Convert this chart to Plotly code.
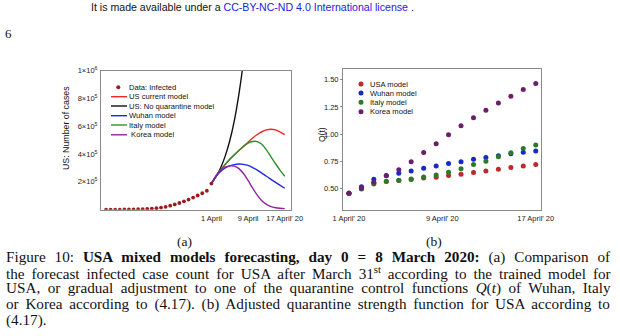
import plotly.graph_objects as go

# ---------------- data (a) ----------------
data_days = list(range(-23, 1))  # 9 March .. 1 April (days relative to 1 April)
data_cases = [500, 700, 900, 1200, 1600, 2100, 2700, 3500, 4600, 6000, 8000, 11000,
              15000, 21000, 29000, 38000, 48000, 60000, 73000, 87000, 102000, 118000,
              136000, 188000]

model_days = list(range(0, 17))  # 1 April .. 17 April
noq_days = list(range(0, 9))
noq_model = [188000, 238000, 300000, 385000, 495000, 640000, 830000, 1070000, 1380000]
us_current = [188000, 240000, 285000, 325000, 362000, 395000, 425000, 455000, 485000,
              515000, 540000, 560000, 573000, 578000, 573000, 558000, 539000]
italy_model = [188000, 240000, 285000, 325000, 362000, 395000, 425000, 455000, 478000,
               490000, 489000, 470000, 430000, 380000, 330000, 283000, 240000]
wuhan_model = [188000, 240000, 275000, 300000, 315000, 324000, 328000, 326000, 318000,
               303000, 285000, 263000, 240000, 218000, 196000, 175000, 154000]
korea_model = [188000, 245000, 283000, 305000, 315000, 313000, 295000, 260000, 210000,
               155000, 105000, 65000, 38000, 22000, 14000, 10000, 8000]

a_xticks = [0, 8, 16]
a_xlabels = ["1 April", "9 April", "17 April' 20"]
a_yticks = [200000, 400000, 600000, 800000, 1000000]
a_ylabels = ["2×10<sup>5</sup>", "4×10<sup>5</sup>", "6×10<sup>5</sup>",
             "8×10<sup>5</sup>", "1×10<sup>6</sup>"]

# ---------------- data (b) ----------------
q_days = [0, 1.07, 2.13, 3.2, 4.27, 5.33, 6.4, 7.47, 8.53, 9.6, 10.67, 11.73,
          12.8, 13.87, 14.93, 16]
q_usa = [0.454, 0.50, 0.55, 0.563, 0.572, 0.582, 0.595, 0.602, 0.617, 0.63, 0.645,
         0.66, 0.676, 0.692, 0.705, 0.719]
q_wuhan = [0.454, 0.515, 0.583, 0.615, 0.639, 0.66, 0.685, 0.706, 0.728, 0.746,
           0.768, 0.784, 0.80, 0.818, 0.833, 0.845]
q_italy = [0.454, 0.494, 0.54, 0.565, 0.574, 0.586, 0.605, 0.623, 0.648, 0.68,
           0.72, 0.75, 0.79, 0.827, 0.866, 0.90]
q_korea = [0.454, 0.50, 0.556, 0.617, 0.67, 0.746, 0.83, 0.91, 0.993, 1.077,
           1.151, 1.219, 1.287, 1.348, 1.41, 1.466]
b_xticks = [0, 8, 16]
b_xlabels = ["1 April' 20", "9 April' 20", "17 April' 20"]
b_yticks = [0.5, 0.75, 1.0, 1.25, 1.5]
b_ylabels = ["0.50", "0.75", "1.00", "1.25", "1.50"]

W, H = 620, 336
SANS = "Liberation Sans"
SERIF = "Liberation Serif"

def px(x):
    return x / W

def py(y):
    return 1 - y / H

C_DOT = "#9b1c1c"
C_RED = "#f02828"
C_BLK = "#111111"
C_BLU = "#2028e8"
C_GRN = "#2a922a"
C_PUR = "#9422a0"

fig = go.Figure()
line_kw = dict(mode="lines", line_shape="spline", showlegend=False, xaxis="x", yaxis="y")
fig.add_trace(go.Scatter(x=noq_days, y=noq_model, line=dict(color=C_BLK, width=1.4), **line_kw))
fig.add_trace(go.Scatter(x=model_days, y=us_current, line=dict(color=C_RED, width=1.4), **line_kw))
fig.add_trace(go.Scatter(x=model_days, y=italy_model, line=dict(color=C_GRN, width=1.4), **line_kw))
fig.add_trace(go.Scatter(x=model_days, y=wuhan_model, line=dict(color=C_BLU, width=1.4), **line_kw))
fig.add_trace(go.Scatter(x=model_days, y=korea_model, line=dict(color=C_PUR, width=1.4), **line_kw))
fig.add_trace(go.Scatter(x=data_days, y=data_cases, mode="markers", showlegend=False,
                         marker=dict(color=C_DOT, size=3.8), xaxis="x", yaxis="y"))

Q_RED, Q_BLU, Q_GRN, Q_PUR = "#c0282a", "#1a28c8", "#2a7a2a", "#6a1f6a"
mk = dict(mode="markers", showlegend=False, xaxis="x2", yaxis="y2")
fig.add_trace(go.Scatter(x=q_days, y=q_usa, marker=dict(color=Q_RED, size=5), **mk))
fig.add_trace(go.Scatter(x=q_days, y=q_wuhan, marker=dict(color=Q_BLU, size=5), **mk))
fig.add_trace(go.Scatter(x=q_days, y=q_italy, marker=dict(color=Q_GRN, size=5), **mk))
fig.add_trace(go.Scatter(x=q_days, y=q_korea, marker=dict(color=Q_PUR, size=5), **mk))

tickfont = dict(family=SANS, size=7.5, color="#222")
axis_common = dict(showgrid=False, zeroline=False, showline=True, mirror=True,
                   linecolor="#8a8a8a", linewidth=1, tickfont=tickfont, automargin=False)

fig.update_layout(
    template="none",
    width=W, height=H, margin=dict(l=0, r=0, t=0, b=0, pad=0, autoexpand=False),
    paper_bgcolor="white", plot_bgcolor="white", showlegend=False,
    xaxis=dict(domain=[px(101), px(290.7)], range=[-24.1, 17.3], tickvals=a_xticks,
               ticktext=a_xlabels, ticks="", ticklabelstandoff=1, anchor="y", **axis_common),
    yaxis=dict(domain=[py(209.7), py(70.5)], range=[0, 1000000], tickvals=a_yticks,
               ticktext=a_ylabels, ticks="", ticklabelstandoff=1, anchor="x", **axis_common),
    xaxis2=dict(domain=[px(343), px(541)], range=[-0.51, 16.45], tickvals=b_xticks,
                ticktext=b_xlabels, ticks="", ticklabelstandoff=1,
                anchor="y2", **axis_common),
    yaxis2=dict(domain=[py(210), py(69)], range=[0.30, 1.60], tickvals=b_yticks,
                ticktext=b_ylabels, ticks="outside", ticklen=2, tickcolor="#8a8a8a",
                ticklabelstandoff=0, anchor="x2", **axis_common),
)

shapes = []
ann = []

def text(x, y, t, size, family=SANS, color="#111", xanchor="left", textangle=0):
    ann.append(dict(x=px(x), y=py(y), xref="paper", yref="paper", text=t, showarrow=False,
                    xanchor=xanchor, yanchor="middle", textangle=textangle, borderpad=0,
                    borderwidth=0, font=dict(family=family, size=size, color=color)))

# legend (a)
leg_a = [("Data: Infected", C_DOT, "dot"), ("US current model", C_RED, "line"),
         ("US: No quarantine model", C_BLK, "line"), ("Wuhan model", C_BLU, "line"),
         ("Italy model", C_GRN, "line"), (" Korea model", C_PUR, "line")]
rows_a = [87.3, 96.7, 106.0, 115.7, 125.0, 134.8]
for (lab, col, kind), yy in zip(leg_a, rows_a):
    if kind == "dot":
        shapes.append(dict(type="circle", xref="paper", yref="paper", x0=px(116.3), x1=px(120.3),
                           y0=py(yy + 2), y1=py(yy - 2), fillcolor=col, line=dict(width=0)))
    else:
        shapes.append(dict(type="line", xref="paper", yref="paper", x0=px(111), x1=px(127),
                           y0=py(yy), y1=py(yy), line=dict(color=col, width=1.4)))
    text(128.5, yy, lab, 7.6)

# legend (b)
leg_b = [("USA model", Q_RED), ("Wuhan model", Q_BLU), ("Italy model", Q_GRN), ("Korea model", Q_PUR)]
rows_b = [84.0, 93.0, 102.3, 111.7]
for (lab, col), yy in zip(leg_b, rows_b):
    shapes.append(dict(type="circle", xref="paper", yref="paper", x0=px(358.5), x1=px(363.5),
                       y0=py(yy + 2.5), y1=py(yy - 2.5), fillcolor=col, line=dict(width=0)))
    text(370, yy, lab, 7.6)

# axis titles
text(66, 128, "US: Number of cases", 8.8, xanchor="center", textangle=-90)
text(321.5, 134.5, "Q(t)", 8.5, xanchor="center", textangle=-90)

# page text
text(90.5, 7, "It is made available under a <span style='color:#2222dd'>CC-BY-NC-ND 4.0 International license</span> .", 10.6)
text(5, 34, "6", 13, family=SERIF)
text(184, 241.5, "(a)", 13.5, family=SERIF, xanchor="center")
text(434, 241.5, "(b)", 13.5, family=SERIF, xanchor="center")

# ---- caption, justified with word-spacing computed from Times metrics ----
_R = {' ': 250, '(': 333, ')': 333, ',': 250, '.': 250, ':': 278, '=': 564,
      'A': 722, 'C': 667, 'F': 556, 'I': 333, 'K': 722, 'M': 889, 'O': 722, 'Q': 722,
      'S': 556, 'U': 722, 'W': 944, 'a': 444, 'b': 500, 'c': 444, 'd': 500, 'e': 444,
      'f': 333, 'g': 500, 'h': 500, 'i': 278, 'j': 278, 'k': 500, 'l': 278, 'm': 778,
      'n': 500, 'o': 500, 'p': 500, 'q': 500, 'r': 333, 's': 389, 't': 278, 'u': 500,
      'v': 500, 'w': 722, 'x': 500, 'y': 500, 'z': 444}
_B = {' ': 250, ',': 250, ':': 333, '=': 570, 'A': 722, 'M': 944, 'S': 556, 'U': 722,
      'a': 500, 'c': 444, 'd': 556, 'e': 444, 'f': 333, 'g': 500, 'h': 556, 'i': 278,
      'l': 278, 'm': 833, 'n': 556, 'o': 500, 'r': 444, 's': 389, 't': 333, 'x': 500,
      'y': 500}

def seg_width(s, kind, size):
    tbl = _B if kind == "b" else _R
    w = 0
    for ch in s:
        w += 500 if ch.isdigit() else tbl.get(ch, 500)
    scale = 0.7 if kind == "sup" else 1.0
    return w * size * scale / 1000

def seg_html(s, kind):
    if kind == "b":
        return "<b>" + s + "</b>"
    if kind == "i":
        return "<i>" + s + "</i>"
    if kind == "sup":
        return "<sup>" + s + "</sup>"
    return s

cap_lines = [
    [("Figure 10: ", "r"), ("USA mixed models forecasting, day 0 = 8 March 2020:", "b"),
     (" (a) Comparison of", "r")],
    [("the forecast infected case count for USA after March 31", "r"), ("st", "sup"),
     (" according to the trained model for", "r")],
    [("USA, or gradual adjustment to one of the quarantine control functions ", "r"),
     ("Q", "i"), ("(", "r"), ("t", "i"), (") of Wuhan, Italy", "r")],
    [("or Korea according to (4.17). (b) Adjusted quarantine strength function for USA according to", "r")],
    [("(4.17).", "r")],
]
cap_y = [257, 272.6, 288.2, 303.8, 319.8]
CAP_SIZE = 15.2
CAP_X0, CAP_X1 = 6, 612
for i, (segs, yy) in enumerate(zip(cap_lines, cap_y)):
    html = "".join(seg_html(s, k) for s, k in segs)
    if i < len(cap_lines) - 1:
        natural = sum(seg_width(s, k, CAP_SIZE) for s, k in segs)
        nsp = sum(s.count(" ") for s, k in segs)
        ws = (CAP_X1 - CAP_X0 - natural) / max(nsp, 1)
        html = "<span style='word-spacing:%.2fpx'>%s</span>" % (ws, html)
    text(CAP_X0, yy, html, CAP_SIZE, family=SERIF)

fig.update_layout(shapes=shapes, annotations=ann)
fig.write_html("out.html")
